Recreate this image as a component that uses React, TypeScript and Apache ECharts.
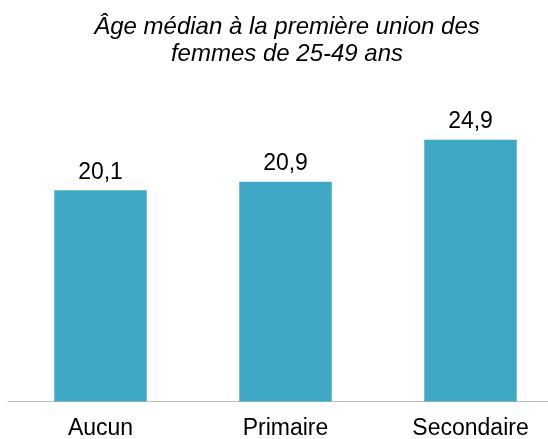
import React, { useEffect, useRef } from "react";
import * as echarts from "echarts";

const categories = ["Aucun", "Primaire", "Secondaire"];
const values = [20.1, 20.9, 24.9];
const titleText = "Âge médian à la première union des\nfemmes de 25-49 ans";

const FONT = "Liberation Sans, Arial, sans-serif";

export default function App() {
  const ref = useRef<HTMLDivElement>(null);
  useEffect(() => {
    if (!ref.current) return;
    const chart = echarts.init(ref.current, null, { renderer: "svg" });
    chart.setOption({
      animation: false,
      title: {
        text: titleText,
        left: 287,
        top: 12,
        textAlign: "center",
        padding: 0,
        textStyle: {
          fontFamily: FONT,
          fontStyle: "italic",
          fontWeight: "normal",
          fontSize: 24,
          lineHeight: 27,
          color: "#000",
        },
      },
      grid: {
        left: 8,
        width: 555,
        top: 86,
        height: 315.6,
        containLabel: false,
        outerBoundsMode: "none",
      },
      xAxis: {
        type: "category",
        data: categories,
        axisTick: { show: false },
        axisLine: { lineStyle: { color: "#BFBFBF", width: 1 } },
        axisLabel: {
          margin: 14,
          fontSize: 23,
          lineHeight: 23,
          color: "#000",
          fontFamily: FONT,
        },
      },
      yAxis: {
        type: "value",
        min: 0,
        max: 30,
        show: false,
        splitLine: { show: false },
      },
      series: [
        {
          type: "bar",
          data: values,
          barCategoryGap: "50%",
          itemStyle: { color: "#3FA9C5" },
          label: {
            show: true,
            position: "top",
            distance: 8,
            fontSize: 23,
            lineHeight: 23,
            color: "#000",
            fontFamily: FONT,
            formatter: (p: any) => Number(p.value).toFixed(1).replace(".", ","),
          },
        },
      ],
    });
    return () => chart.dispose();
  }, []);
  return (
    <div
      ref={ref}
      style={{ position: "fixed", left: 0, top: 0, width: 548, height: 439 }}
    />
  );
}
